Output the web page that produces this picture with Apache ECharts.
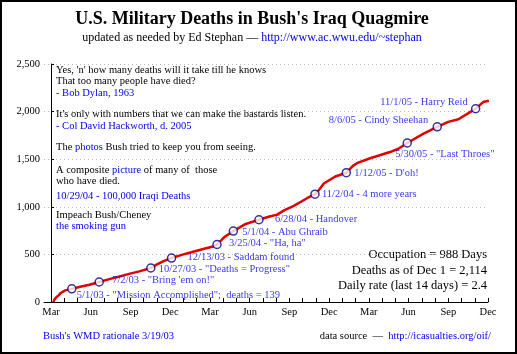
<!DOCTYPE html>
<html>
<head>
<meta charset="utf-8">
<script src="https://cdn.jsdelivr.net/npm/echarts@6/dist/echarts.min.js"></script>
<style>
  html, body { margin: 0; padding: 0; background: #fff; }
  #chart { width: 517px; height: 354px; }
</style>
</head>
<body>
<div id="chart"></div>
<script>
// cumulative US military deaths
const curveDates = ['3/20/03', '3/23/03', '3/27/03', '4/1/03', '4/6/03', '4/10/03', '4/16/03', '5/1/03',
  '5/20/03', '6/10/03', '7/2/03', '7/25/03', '8/15/03', '9/10/03', '10/1/03', '10/27/03', '11/9/03',
  '11/25/03', '12/13/03', '1/5/04', '1/31/04', '2/25/04', '3/18/04', '3/25/04', '4/10/04', '5/1/04',
  '5/29/04', '6/28/04', '7/20/04', '8/8/04', '8/25/04', '9/15/04', '10/15/04', '11/2/04', '11/10/04',
  '11/22/04', '12/18/04', '1/12/05', '1/27/05', '2/5/05', '3/7/05', '4/21/05', '5/10/05', '5/30/05',
  '7/6/05', '8/6/05', '8/31/05', '9/23/05', '10/23/05', '11/1/05', '11/18/05', '12/1/05'];
const curveDeaths = [0, 28, 50, 70, 95, 112, 122, 138,
  160, 182, 210, 240, 265, 298, 322, 357, 392,
  430, 462, 495, 528, 560, 585, 604, 680, 745,
  820, 864, 895, 918, 965, 1010, 1090, 1132, 1170,
  1245, 1318, 1358, 1430, 1458, 1510, 1575, 1610, 1670,
  1768, 1840, 1892, 1920, 2005, 2030, 2100, 2114];

// marked events
const eventDates = ['5/1/03', '7/2/03', '10/27/03', '12/13/03', '3/25/04', '5/1/04', '6/28/04',
  '11/2/04', '1/12/05', '5/30/05', '8/6/05', '11/1/05'];
const eventDeaths = [138, 210, 357, 462, 604, 745, 864, 1132, 1358, 1670, 1840, 2030];
const eventText = [
  '5/1/03 - "Mission Accomplished";  deaths = 139',
  '7/2/03 - "Bring \'em on!"',
  '10/27/03 - "Deaths = Progress"',
  '12/13/03 - Saddam found',
  '3/25/04 - "Ha, ha"',
  '5/1/04 - Abu Ghraib',
  '6/28/04 - Handover',
  '11/2/04 - 4 more years',
  '1/12/05 - D\'oh!',
  '5/30/05 - "Last Throes"',
  '8/6/05 - Cindy Sheehan',
  '11/1/05 - Harry Reid'
];
// label placement: [dx, dy, align]
const eventLabelPos = [[5, 6, 'left'], [13, -2, 'left'], [8, 1, 'left'], [16, -1, 'left'],
  [12, -1, 'left'], [9, 1, 'left'], [16, 0, 'left'], [7, 0, 'left'], [8, 1, 'left'],
  [-12, 11, 'left'], [-9, -7, 'right'], [-8, -6, 'right']];

const monthLabels = ['Mar', 'Jun', 'Sep', 'Dec', 'Mar', 'Jun', 'Sep', 'Dec', 'Mar', 'Jun', 'Sep', 'Dec'];

const statsLines = ['Occupation = 988 Days', 'Deaths as of Dec 1 = 2,114', 'Daily rate (last 14 days) = 2.4'];

// days counted from 3/15/03, ticks every 30 days
const START = Date.UTC(2003, 2, 15);
function toDay(s) {
  const p = s.split('/');
  return (Date.UTC(2000 + +p[2], +p[0] - 1, +p[1]) - START) / 86400000;
}

const BLUE = '#0000ee';
const SERIF = '"Liberation Serif", "Times New Roman", serif';

const tickValues = [];
for (let d = 0; d <= 990; d += 30) tickValues.push(d);
const labelValues = monthLabels.map((m, i) => i * 90);

const lineData = curveDates.map((d, i) => [toDay(d), curveDeaths[i]]);
const eventData = eventDates.map((d, i) => ({
  value: [toDay(d), eventDeaths[i]],
  label: {
    show: true,
    formatter: eventText[i],
    position: 'inside',
    offset: [eventLabelPos[i][0], eventLabelPos[i][1]],
    align: eventLabelPos[i][2],
    verticalAlign: 'middle'
  }
}));

function txt(x, y, text, opts) {
  return {
    type: 'text', x: x, y: y, silent: true,
    style: Object.assign({
      text: text, fill: '#000', font: '10.5px ' + SERIF,
      textAlign: 'left', textVerticalAlign: 'middle'
    }, opts || {})
  };
}

const rich = { b: { fill: BLUE, color: BLUE, font: '10.5px ' + SERIF } };

const graphics = [
  { type: 'rect', shape: { x: 1, y: 1, width: 515, height: 352 }, style: { fill: 'none', stroke: '#000', lineWidth: 2 }, silent: true },
  txt(252, 19, "U.S. Military Deaths in Bush's Iraq Quagmire", { font: 'bold 18px ' + SERIF, textAlign: 'center' }),
  txt(252, 38, 'updated as needed by Ed Stephan — {b|http://www.ac.wwu.edu/~stephan}',
    { font: '12px ' + SERIF, textAlign: 'center', rich: { b: { fill: BLUE, color: BLUE, font: '12px ' + SERIF } } }),
  txt(56, 70, "Yes, 'n' how many deaths will it take till he knows"),
  txt(56, 81.5, 'That too many people have died?'),
  txt(56, 93, '- Bob Dylan, 1963', { fill: BLUE }),
  txt(56, 114, "It's only with numbers that we can make the bastards listen."),
  txt(56, 126, '- Col David Hackworth, d. 2005', { fill: BLUE }),
  txt(56, 147.5, 'The {b|photos} Bush tried to keep you from seeing.', { rich: rich }),
  txt(56, 170, 'A composite {b|picture} of many of  those', { rich: rich }),
  txt(56, 181, 'who have died.'),
  txt(56, 196, '10/29/04 - 100,000 Iraqi Deaths', { fill: BLUE }),
  txt(56, 215.5, 'Impeach Bush/Cheney'),
  txt(56, 226.5, 'the smoking gun', { fill: BLUE }),
  txt(43, 336, "Bush's WMD rationale 3/19/03", { fill: BLUE }),
  txt(491, 336, 'data source  —  {b|http://icasualties.org/oif/}', { textAlign: 'right', rich: rich })
];
statsLines.forEach((s, i) => {
  graphics.push(txt(487, 255 + i * 15.5, s, { font: '12.5px ' + SERIF, textAlign: 'right' }));
});

const option = {
  animation: false,
  backgroundColor: '#fff',
  grid: { left: 44, right: 29, top: 64, bottom: 52 },
  xAxis: {
    type: 'value',
    min: -16,
    max: 990,
    axisLine: { lineStyle: { color: '#000', width: 1 } },
    axisTick: { inside: true, length: 4, lineStyle: { color: '#000' }, customValues: tickValues },
    axisLabel: {
      customValues: labelValues,
      formatter: function (v) { return monthLabels[Math.round(v / 90)]; },
      color: '#000', fontFamily: SERIF, fontSize: 10.5, margin: 5
    },
    splitLine: { show: false }
  },
  yAxis: {
    type: 'value',
    min: 0,
    max: 2500,
    interval: 500,
    axisLine: { show: true, lineStyle: { color: '#000', width: 1 } },
    axisTick: { show: true, inside: true, length: 3, lineStyle: { color: '#000' } },
    axisLabel: {
      formatter: function (v) { return v.toLocaleString('en-US'); },
      color: '#000', fontFamily: SERIF, fontSize: 10.5, margin: 4
    },
    splitLine: { show: true, lineStyle: { color: '#bbb', type: [1, 3], width: 1 } }
  },
  series: [
    {
      type: 'line',
      data: lineData,
      symbol: 'none',
      lineStyle: { color: '#e00000', width: 2.5 },
      z: 2
    },
    {
      type: 'scatter',
      data: eventData,
      symbol: 'circle',
      symbolSize: 8,
      itemStyle: { color: '#fff', borderColor: '#000080', borderWidth: 1.5 },
      label: { color: BLUE, fontFamily: SERIF, fontSize: 10.5 },
      z: 3
    }
  ],
  graphic: graphics
};

const myChart = echarts.init(document.getElementById('chart'));
myChart.setOption(option);
window.addEventListener('resize', function () {
  myChart.resize();
});
</script>
</body>
</html>
